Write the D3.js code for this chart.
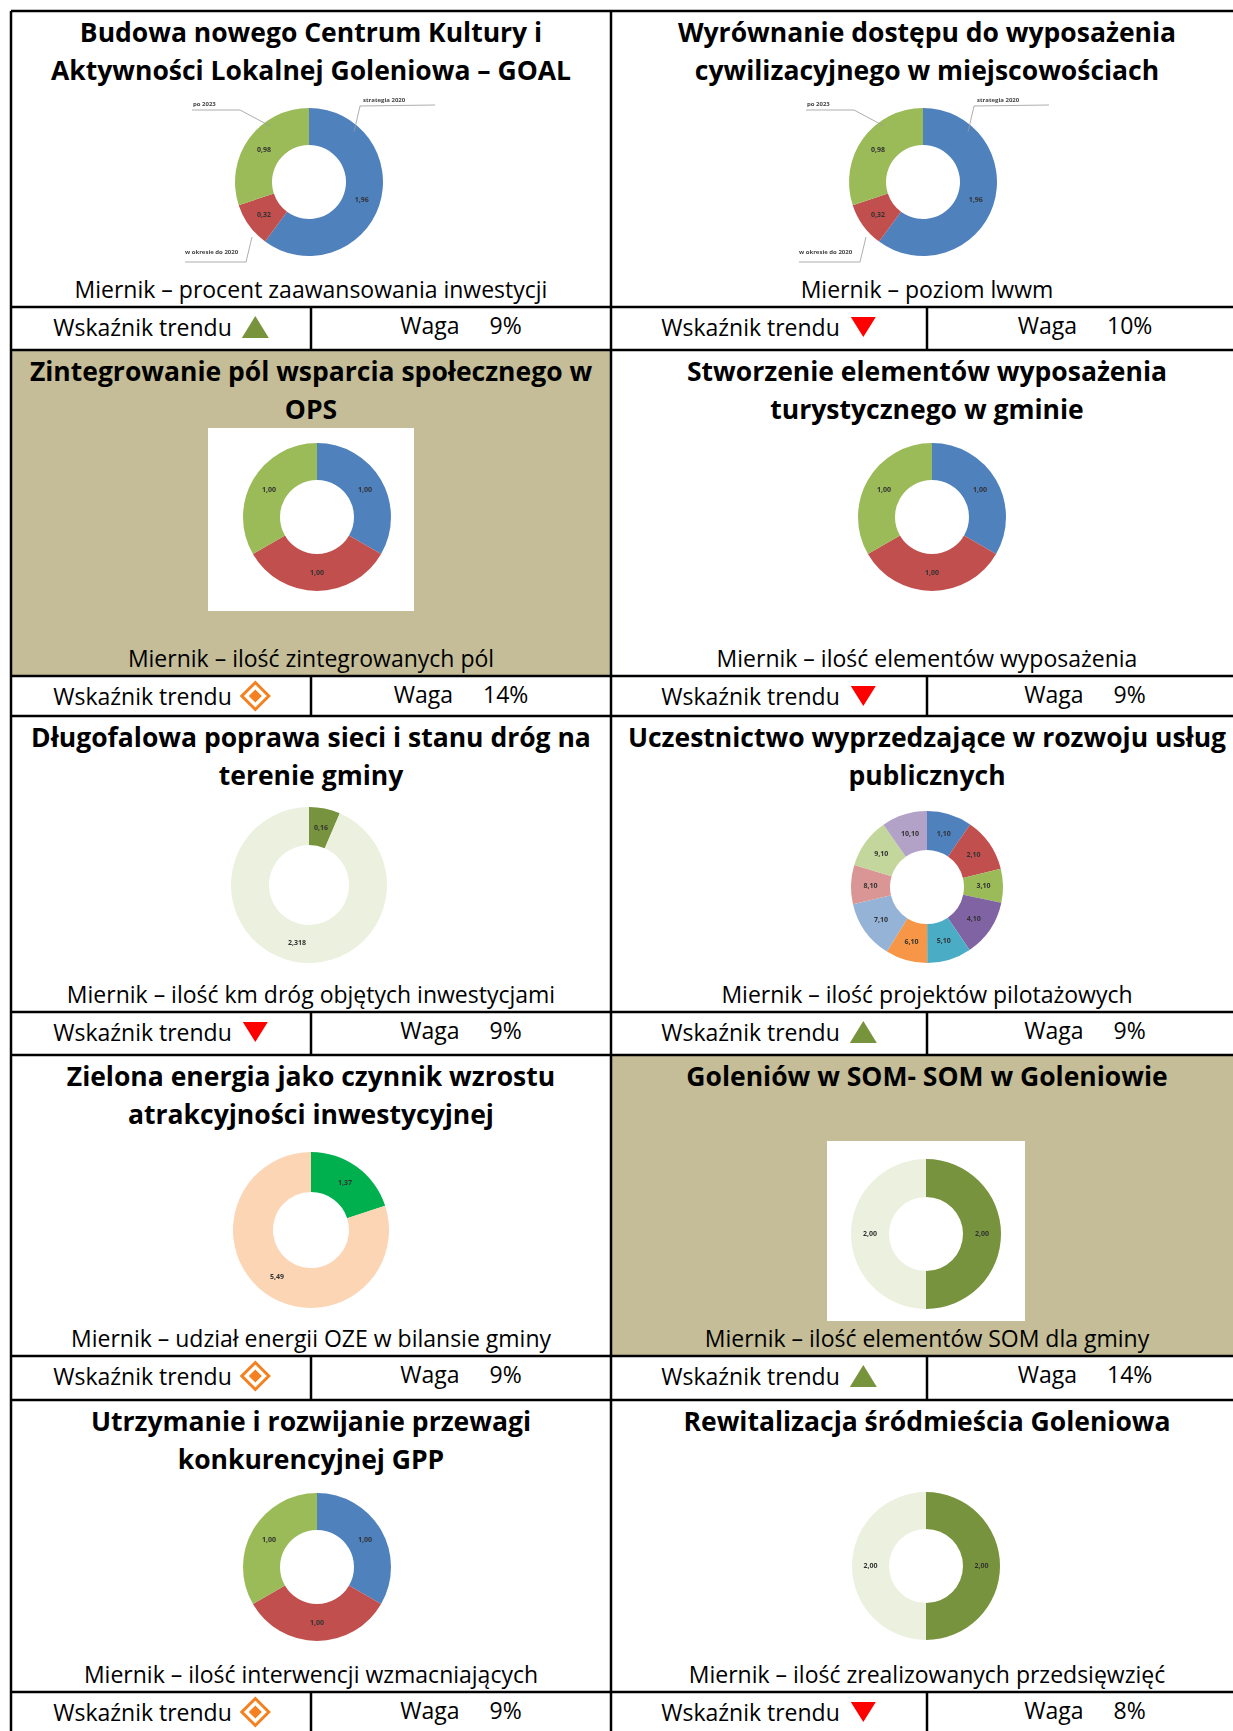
<!DOCTYPE html>
<html>
<head>
<meta charset="utf-8">
<script src="https://cdn.jsdelivr.net/npm/d3@7/dist/d3.min.js"></script>
<style>
  body { margin: 0; background: #fff; }
  text { font-family: "Open Sans", Lato, sans-serif; }
</style>
</head>
<body>
<div id="chart"></div>
<script>

// ================================ data
var titles = [
  ["Budowa nowego Centrum Kultury i", "Aktywności Lokalnej Goleniowa – GOAL"],
  ["Wyrównanie dostępu do wyposażenia", "cywilizacyjnego w miejscowościach"],
  ["Zintegrowanie pól wsparcia społecznego w", "OPS"],
  ["Stworzenie elementów wyposażenia", "turystycznego w gminie"],
  ["Długofalowa poprawa sieci i stanu dróg na", "terenie gminy"],
  ["Uczestnictwo wyprzedzające w rozwoju usług", "publicznych"],
  ["Zielona energia jako czynnik wzrostu", "atrakcyjności inwestycyjnej"],
  ["Goleniów w SOM- SOM w Goleniowie"],
  ["Utrzymanie i rozwijanie przewagi", "konkurencyjnej GPP"],
  ["Rewitalizacja śródmieścia Goleniowa"]
];

var measures = [
  "Miernik – procent zaawansowania inwestycji",
  "Miernik – poziom lwwm",
  "Miernik – ilość zintegrowanych pól",
  "Miernik – ilość elementów wyposażenia",
  "Miernik – ilość km dróg objętych inwestycjami",
  "Miernik – ilość projektów pilotażowych",
  "Miernik – udział energii OZE w bilansie gminy",
  "Miernik – ilość elementów SOM dla gminy",
  "Miernik – ilość interwencji wzmacniających",
  "Miernik – ilość zrealizowanych przedsięwzięć"
];

var trends = ["up", "down", "flat", "down", "down", "up", "flat", "up", "flat", "down"];
var weights = ["9%", "10%", "14%", "9%", "9%", "9%", "9%", "14%", "9%", "8%"];
var shaded = [false, false, true, false, false, false, false, true, false, false];

// slice values and their data labels
var goalValues = [1.96, 0.32, 0.98];
var goalLabels = ["1,96", "0,32", "0,98"];
var goalPhases = ["strategia 2020", "w okresie do 2020", "po 2023"];

var thirdsValues = [1, 1, 1];
var thirdsLabels = ["1,00", "1,00", "1,00"];

var roadValues = [0.16, 2.318];
var roadLabels = ["0,16", "2,318"];

var pilotValues = [0.96, 1.15, 0.72, 1.22, 0.94, 0.89, 1.25, 0.83, 1.06, 0.97];
var pilotLabels = ["1,10", "2,10", "3,10", "4,10", "5,10", "6,10", "7,10", "8,10", "9,10", "10,10"];

var ozeValues = [1.37, 5.49];
var ozeLabels = ["1,37", "5,49"];

var halfValues = [2, 2];
var halfLabels = ["2,00", "2,00"];

// ================================ styles / layout
var officeColors = ["#4F81BD", "#C0504D", "#9BBB59"];
var pilotColors = ["#4F81BD", "#C0504D", "#9BBB59", "#8064A2", "#4BACC6",
                   "#F79646", "#95B3D7", "#D99694", "#C3D69B", "#B3A2C7"];
var oliveColors = ["#77933C", "#EBF1DE"];
var ozeColors = ["#00B050", "#FCD5B5"];

var svgWidth = 1233;
var svgHeight = 1731;

var colX = [11, 611, 1243];
var chartRows = [[11, 307], [350, 676], [716, 1012], [1055, 1356], [1400, 1692]];
var trendRows = [[307, 350], [676, 716], [1012, 1055], [1356, 1400], [1692, 1745]];

var donuts = [
  {values: goalValues, labels: goalLabels, colors: officeColors, dx: -2, dy: 171, r: 74, r0: 37, leader: true},
  {values: goalValues, labels: goalLabels, colors: officeColors, dx: -4, dy: 171, r: 74, r0: 37, leader: true},
  {values: thirdsValues, labels: thirdsLabels, colors: officeColors, dx: 6, dy: 167, r: 74, r0: 37, box: [-109, -89, 206, 183]},
  {values: thirdsValues, labels: thirdsLabels, colors: officeColors, dx: 5, dy: 167, r: 74, r0: 37},
  {values: roadValues, labels: roadLabels, colors: oliveColors, dx: -2, dy: 169, r: 78, r0: 40},
  {values: pilotValues, labels: pilotLabels, colors: pilotColors, dx: 0, dy: 171, r: 76, r0: 37},
  {values: ozeValues, labels: ozeLabels, colors: ozeColors, dx: 0, dy: 175, r: 78, r0: 38},
  {values: halfValues, labels: halfLabels, colors: oliveColors, dx: -1, dy: 179, r: 75, r0: 37, box: [-99, -93, 198, 180]},
  {values: thirdsValues, labels: thirdsLabels, colors: officeColors, dx: 6, dy: 167, r: 74, r0: 37},
  {values: halfValues, labels: halfLabels, colors: oliveColors, dx: -1, dy: 166, r: 74, r0: 37}
];

var svg = d3.select("#chart")
  .append("svg")
  .attr("width", svgWidth)
  .attr("height", svgHeight);

// soft blur, the charts in the original are pasted bitmaps
svg.append("defs").append("filter")
  .attr("id", "soft")
  .attr("x", "-20%").attr("y", "-20%").attr("width", "140%").attr("height", "140%")
  .append("feGaussianBlur")
  .attr("stdDeviation", 0.7);

var pie = d3.pie().sort(null).value(d => d);

titles.forEach(function (lines, i) {
  var col = i % 2;
  var row = Math.floor(i / 2);
  var x0 = colX[col], x1 = colX[col + 1];
  var cx = (x0 + x1) / 2;
  var y0 = chartRows[row][0], y1 = chartRows[row][1];

  if (shaded[i]) {
    svg.append("rect")
      .attr("x", x0).attr("y", y0)
      .attr("width", x1 - x0).attr("height", y1 - y0)
      .attr("fill", "#C4BD97");
  }

  // title
  lines.forEach(function (line, k) {
    svg.append("text")
      .attr("x", cx)
      .attr("y", y0 + 31 + k * 38)
      .attr("text-anchor", "middle")
      .style("font-size", "26.5px")
      .style("font-weight", "bold")
      .text(line);
  });

  // measure line
  svg.append("text")
    .attr("x", cx)
    .attr("y", y1 - 9)
    .attr("text-anchor", "middle")
    .style("font-size", "23px")
    .text(measures[i]);

  // donut
  var d = donuts[i];
  var g = svg.append("g")
    .attr("transform", `translate(${cx + d.dx}, ${y0 + d.dy})`);

  if (d.box) {
    g.append("rect")
      .attr("x", d.box[0]).attr("y", d.box[1])
      .attr("width", d.box[2]).attr("height", d.box[3])
      .attr("fill", "white");
  }

  var arc = d3.arc().innerRadius(d.r0).outerRadius(d.r);
  var labelArc = d3.arc().innerRadius((d.r0 + d.r) / 2).outerRadius((d.r0 + d.r) / 2);
  var arcs = pie(d.values);

  var dg = g.append("g").attr("filter", "url(#soft)");
  dg.selectAll("path")
    .data(arcs)
    .enter()
    .append("path")
    .attr("d", arc)
    .attr("fill", (a, j) => d.colors[j]);

  dg.selectAll(".lbl")
    .data(arcs)
    .enter()
    .append("text")
    .attr("class", "lbl")
    .attr("transform", a => `translate(${labelArc.centroid(a)})`)
    .attr("dy", "0.35em")
    .attr("text-anchor", "middle")
    .style("font-size", "7px")
    .style("font-weight", "bold")
    .style("fill", "#333")
    .text((a, j) => d.labels[j]);

  // leader lines for the GOAL phases
  if (d.leader) {
    var leaders = [
      {text: goalPhases[0], tx: 54, ty: -80, line: [[45, -50], [51, -76], [126, -77]]},
      {text: goalPhases[1], tx: -124, ty: 72, line: [[-57, 55], [-63, 80], [-124, 80]]},
      {text: goalPhases[2], tx: -116, ty: -76, line: [[-39, -56], [-69, -72], [-117, -72]]}
    ];
    leaders.forEach(function (l) {
      dg.append("path")
        .attr("d", d3.line()(l.line))
        .attr("fill", "none")
        .attr("stroke", "#999")
        .attr("stroke-width", 0.8);
      dg.append("text")
        .attr("x", l.tx).attr("y", l.ty)
        .style("font-size", "6px")
        .style("font-weight", "bold")
        .style("fill", "#444")
        .text(l.text);
    });
  }

  // trend row
  var t0 = trendRows[row][0];
  var half1 = (x0 + cx) / 2;
  var half2 = (cx + x1) / 2;
  var base = t0 + 29;

  var wt = svg.append("text")
    .attr("x", 0).attr("y", base)
    .style("font-size", "23px")
    .text("Wskaźnik trendu");
  var tw = wt.node().getComputedTextLength();
  var iconW = 27, gap = 10;
  var startX = half1 - (tw + gap + iconW) / 2;
  wt.attr("x", startX);

  var ix = startX + tw + gap + iconW / 2;
  var iy = base - 9;
  if (trends[i] === "up") {
    svg.append("path")
      .attr("d", `M${ix - 13.5},${iy + 11} L${ix + 13.5},${iy + 11} L${ix},${iy - 11} Z`)
      .attr("fill", "#77933C");
  } else if (trends[i] === "down") {
    svg.append("path")
      .attr("d", `M${ix - 12.5},${iy - 10} L${ix + 12.5},${iy - 10} L${ix},${iy + 10} Z`)
      .attr("fill", "#FF0000");
  } else {
    svg.append("path")
      .attr("d", `M${ix},${iy - 13.5} L${ix + 13.5},${iy} L${ix},${iy + 13.5} L${ix - 13.5},${iy} Z`)
      .attr("fill", "white")
      .attr("stroke", "#F5801F")
      .attr("stroke-width", 3);
    svg.append("path")
      .attr("d", `M${ix},${iy - 6.5} L${ix + 6.5},${iy} L${ix},${iy + 6.5} L${ix - 6.5},${iy} Z`)
      .attr("fill", "#F5801F");
  }

  svg.append("text")
    .attr("x", half2)
    .attr("y", base - 2)
    .attr("text-anchor", "middle")
    .style("font-size", "23px")
    .text("Waga")
    .append("tspan")
    .attr("dx", 30)
    .text(weights[i]);
});

// ================================ table grid
var grid = svg.append("g")
  .attr("stroke", "black")
  .attr("stroke-width", 2.5)
  .attr("fill", "none");

var hLines = [11];
chartRows.forEach(function (r, k) {
  hLines.push(r[1]);
  hLines.push(trendRows[k][1]);
});
hLines.forEach(function (y) {
  grid.append("line").attr("x1", colX[0]).attr("x2", colX[2]).attr("y1", y).attr("y2", y);
});
[colX[0], colX[1], colX[2]].forEach(function (x) {
  grid.append("line").attr("x1", x).attr("x2", x).attr("y1", 11).attr("y2", svgHeight + 20);
});
trendRows.forEach(function (r) {
  [(colX[0] + colX[1]) / 2, (colX[1] + colX[2]) / 2].forEach(function (x) {
    grid.append("line").attr("x1", x).attr("x2", x).attr("y1", r[0]).attr("y2", r[1]);
  });
});

</script>
</body>
</html>
